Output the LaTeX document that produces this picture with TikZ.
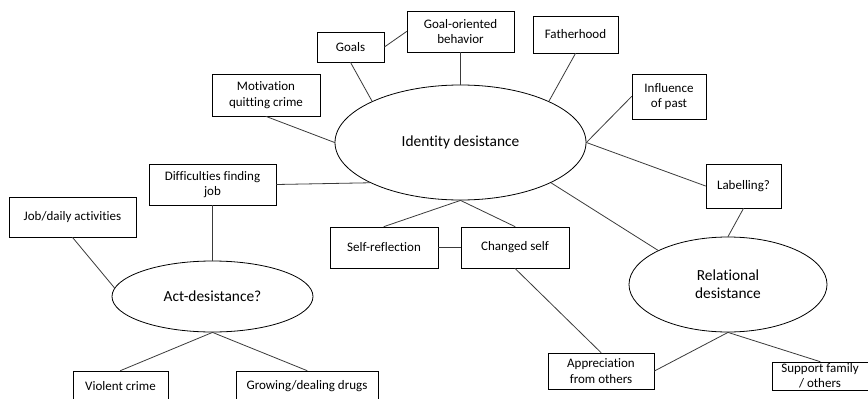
\documentclass[tikz,border=0pt]{standalone}
\usepackage{fontspec}
\setmainfont{Carlito}[Ligatures=NoCommon]
\usepackage{xcolor}
\usepackage{tikz}
\usetikzlibrary{shapes.geometric}
\definecolor{ink}{HTML}{000000}
\definecolor{edge}{HTML}{3A3A3A}
\tikzset{
  box/.style={draw=ink, line width=0.8pt, inner sep=0pt, align=center, text=ink, font=\fontsize{13}{15.5}\selectfont},
  oval/.style={ellipse, draw=ink, line width=0.8pt, inner sep=0pt, align=center, text=ink, font=\fontsize{15.4}{18}\selectfont},
  link/.style={draw=edge, line width=0.8pt, line cap=round},
}

\begin{document}
\begin{tikzpicture}[x=1pt,y=-1pt]
\useasboundingbox (0,0) rectangle (868,399);
\clip (0,0) rectangle (868,399);
% ovals
\node[oval, minimum width=251pt, minimum height=115pt] (idn) at (460.5,142.5) {Identity desistance};
\node[oval, minimum width=201pt, minimum height=71pt] (act) at (212.5,296.5) {Act-desistance?};
\node[oval, minimum width=198pt, minimum height=95pt] (rel) at (728,284.5) {Relational\\desistance};
% boxes
\node[box, minimum width=67pt, minimum height=30pt] (goals) at (350.5,47) {Goals};
\node[box, minimum width=107pt, minimum height=41pt] (goalor) at (460.5,31.5) {Goal-oriented\\behavior};
\node[box, minimum width=85pt, minimum height=37pt] (father) at (575.5,34.5) {Fatherhood};
\node[box, minimum width=74pt, minimum height=45pt] (past) at (669,96.5) {Influence\\of past};
\node[box, minimum width=108pt, minimum height=42pt] (motiv) at (266,95) {Motivation\\quitting crime};
\node[box, minimum width=127pt, minimum height=41pt] (diff) at (212.5,184.5) {Difficulties finding\\job};
\node[box, minimum width=127pt, minimum height=40pt] (job) at (72.5,217) {Job/daily activities};
\node[box, minimum width=75pt, minimum height=44pt] (label) at (743.5,186) {Labelling?};
\node[box, minimum width=108pt, minimum height=41pt] (selfref) at (384,247.5) {Self-reflection};
\node[box, minimum width=108pt, minimum height=41pt] (changed) at (515,247.5) {Changed self};
\node[box, minimum width=95pt, minimum height=30pt] (violent) at (120.5,386) {Violent crime};
\node[box, minimum width=142pt, minimum height=30pt] (drugs) at (307,386) {Growing/dealing drugs};
\node[box, minimum width=106pt, minimum height=36pt] (apprec) at (601,371) {Appreciation\\from others};
\node[box, minimum width=96pt, minimum height=28pt] (support) at (820,376) {Support family\\/ others};
% links
\draw[link] (goals.east) -- (goalor.west);
\draw[link] (goals.south) -- (idn.155);
\draw[link] (goalor.south) -- (idn.north);
\draw[link] (father.south) -- (idn.25);
\draw[link] (past.west) -- (idn.east);
\draw[link] (label.west) -- (idn.east);
\draw[link] (motiv.south) -- (idn.west);
\draw[link] (diff.east) -- (idn.204);
\draw[link] (diff.south) -- (act.north);
\draw[link] (job.south) -- (act.175);
\draw[link] (act.south) -- (violent.north);
\draw[link] (act.south) -- (drugs.north);
\draw[link] (idn.south) -- (selfref.north);
\draw[link] (idn.south) -- (changed.north);
\draw[link] (selfref.east) -- (changed.west);
\draw[link] (idn.336) -- (rel.154);
\draw[link] (label.south) -- (rel.north);
\draw[link] (changed.south) -- (apprec.north);
\draw[link] (apprec.east) -- (rel.south);
\draw[link] (rel.south) -- (support.north);
\end{tikzpicture}
\end{document}
